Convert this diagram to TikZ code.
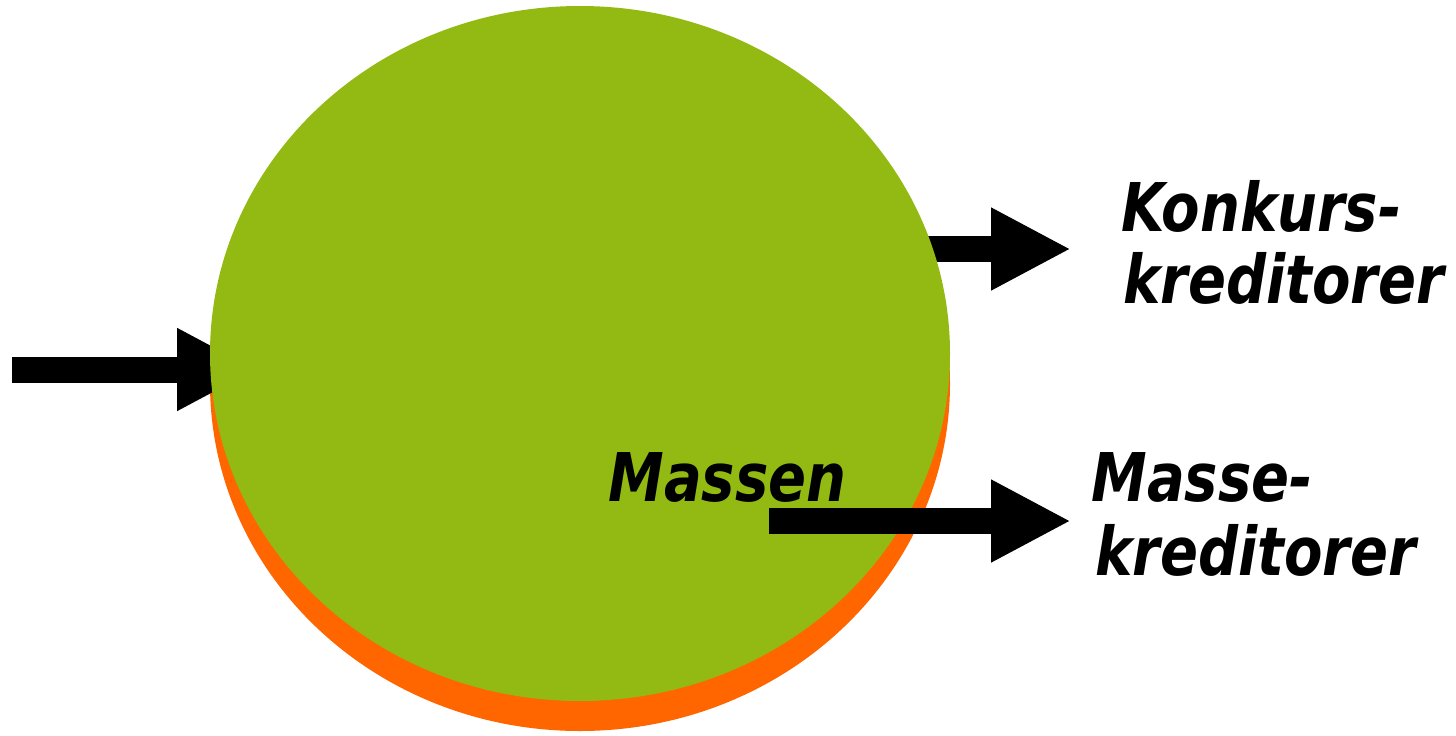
\documentclass[tikz,border=0pt]{standalone}
\usepackage{fontspec}
\setmainfont{DejaVu Sans}
\usetikzlibrary{arrows.meta,shapes.geometric}
\definecolor{massgreen}{RGB}{146,186,18}
\definecolor{massorange}{RGB}{255,102,0}
\newcommand*{\dy}{30}
\newcommand*{\tall}[1]{\scalebox{1}[1.2]{#1}}
\tikzset{
	pool/.style={
		ellipse,
		minimum width=370pt,
		minimum height=347.5pt,
		inner sep=0pt,
		draw=none,
		fill=#1
	},
	flow/.style={
		line width=13pt,
		-{Triangle[length=40pt,width=38.5pt]}
	},
	flowtext/.style={
		font=\fontsize{28}{34}\selectfont\bfseries\itshape,
		inner sep=0pt,
		anchor=base west
	}
}

\begin{document}
\begin{tikzpicture}[x=0.5pt,y=-0.5pt]
	\useasboundingbox (0,0) rectangle (1456,735);
	% shadow and inflow
	\node (sh) [pool=massorange] at (580,353.5+\dy) {};
	\coordinate (in0) at (12,369.5);
	\coordinate (in1) at (257,369.5);
	\draw[flow] (in0) -- (in1);
	\coordinate (ok0) at (900,249);
	\coordinate (ok1) at (1071,249);
	\draw[flow] (ok0) -- (ok1);
	% the estate
	\node (ms) [pool=massgreen] at (580,353.5) {};
	\node (mn) [flowtext] at (608,501) {\tall{Massen}};
	\coordinate (om0) at (769,521);
	\coordinate (om1) at (1071,521);
	\draw[flow] (om0) -- (om1);
	% creditors
	\node (kk1) [flowtext] at (1121,231) {\tall{Konkurs-}};
	\node (kk2) [flowtext] at (1123,303) {\tall{kreditorer}};
	\node (mk1) [flowtext] at (1091,501) {\tall{Masse-}};
	\node (mk2) [flowtext] at (1095,575) {\tall{kreditorer}};
\end{tikzpicture}
\end{document}
